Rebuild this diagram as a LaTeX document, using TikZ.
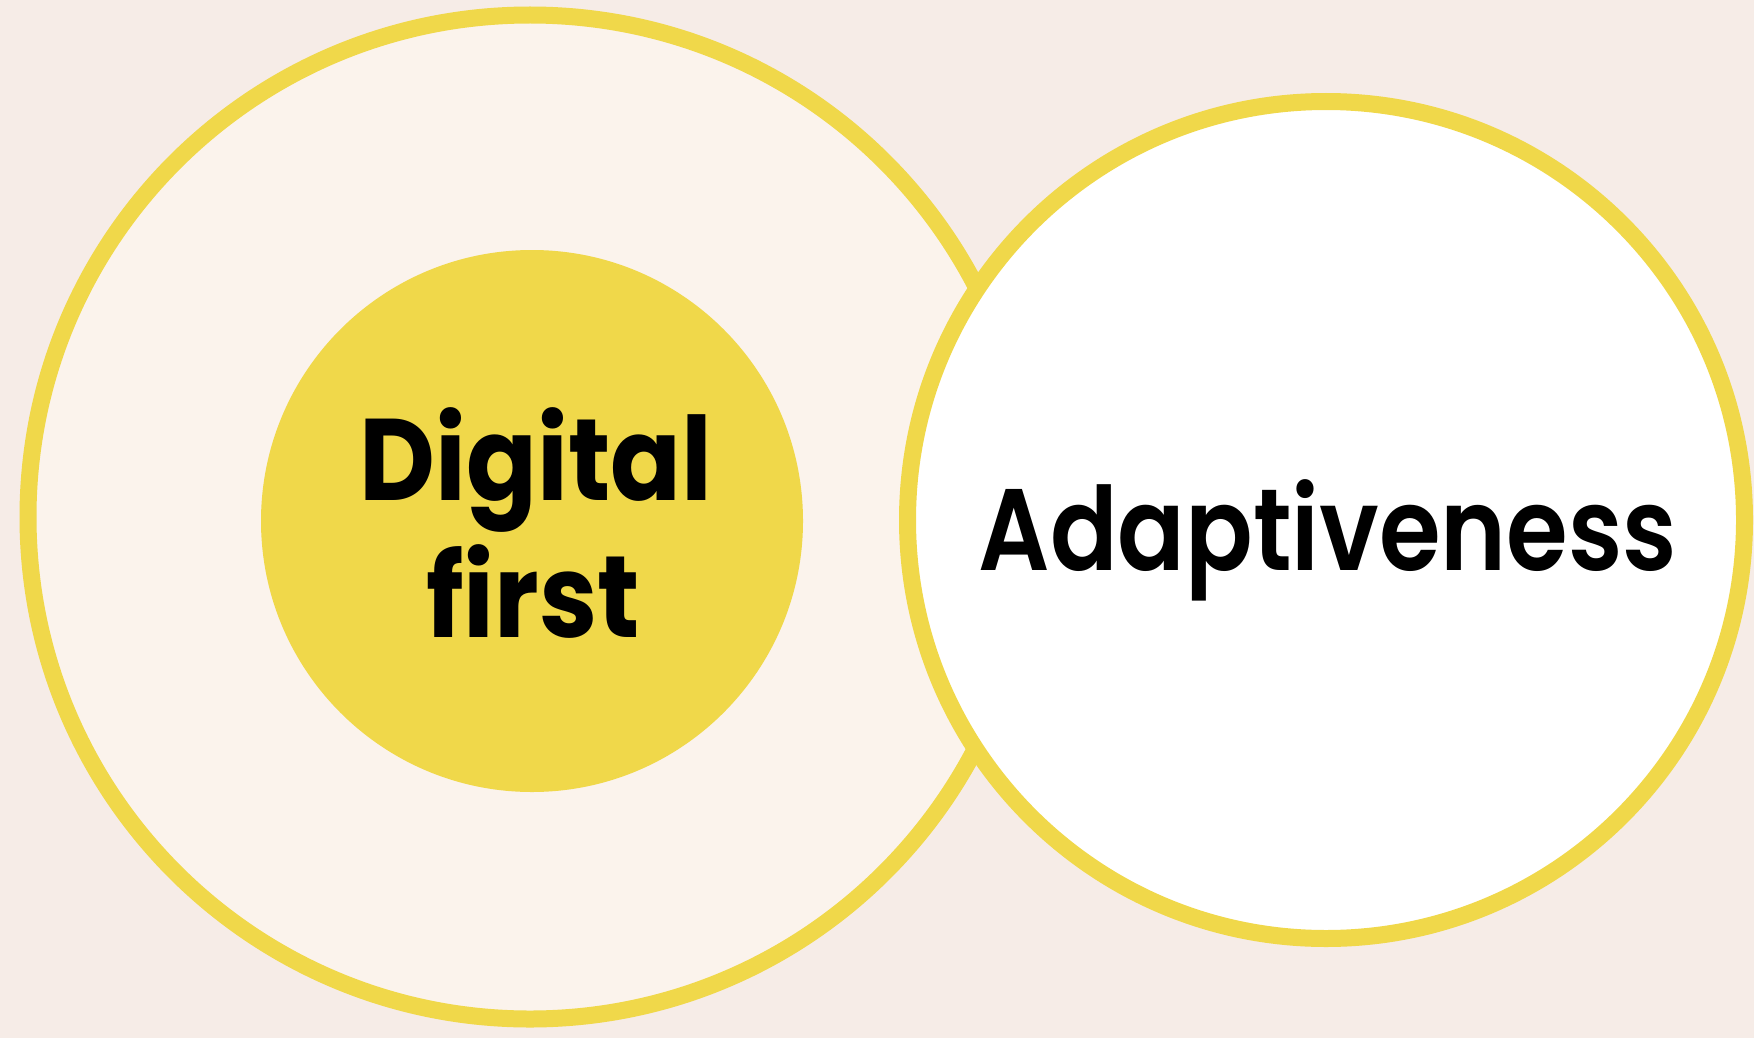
\documentclass[tikz,border=0pt]{standalone}
\usepackage{fontspec}
\setmainfont{Poppins}[FakeStretch=0.9]
\newfontfamily\semifont{Poppins SemiBold}[FakeStretch=0.86]
\usetikzlibrary{positioning}

\definecolor{bgpink}{RGB}{246,236,231}
\definecolor{cream}{RGB}{251,243,236}
\definecolor{sunyellow}{RGB}{240,216,74}

\tikzset{
  ring/.style={line width=8.5pt, draw=sunyellow},
  bigword/.style={font=\fontsize{58}{68}\selectfont\bfseries, text=black, anchor=base, inner sep=0pt}
}

\begin{document}
\begin{tikzpicture}[x=0.5pt,y=-0.5pt]

% Background and page size
\fill[bgpink] (0,0) rectangle (1754,1038);
\useasboundingbox (0,0) rectangle (1754,1038);

% Left circle with the yellow disk inside
\filldraw[ring, fill=cream] (530,517) circle (251pt);
\fill[sunyellow] (532,521) circle (135.5pt);

\node[bigword] (digital) at (536,500) {Digital};
\node[bigword] (first) at (533,637) {first};

% Right circle, drawn on top of the left one
\filldraw[ring, fill=white] (1326,520) circle (209.25pt);

\node[bigword, font=\fontsize{58}{68}\semifont] (adaptiveness) at (1328,570) {Adaptiveness};

\end{tikzpicture}
\end{document}
